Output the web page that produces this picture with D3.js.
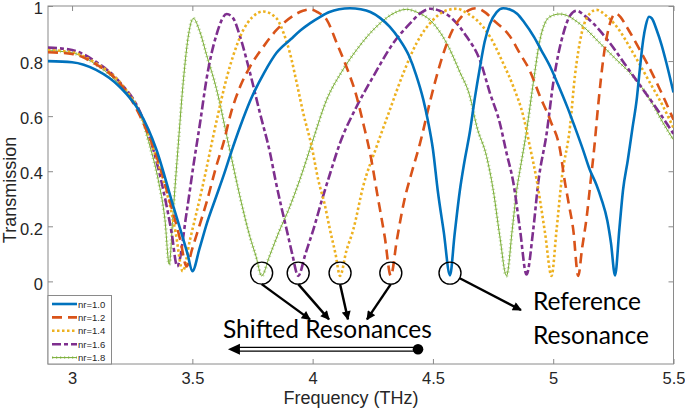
<!DOCTYPE html>
<html><head><meta charset="utf-8">
<script src="https://cdn.jsdelivr.net/npm/d3@7"></script>
<style>body{margin:0;background:#fff} svg{display:block}</style>
</head><body><svg id="c" width="685" height="408"></svg>
<script>
// ---------- data ----------
const xTicks = [3, 3.5, 4, 4.5, 5, 5.5];
const yTicks = [0, 0.2, 0.4, 0.6, 0.8, 1];
const seriesNames = ["nr=1.0", "nr=1.2", "nr=1.4", "nr=1.6", "nr=1.8"];

const nr10 = [[2.90,0.800],[3.00,0.796],[3.10,0.768],[3.20,0.705],[3.28,0.617],[3.35,0.480],[3.42,0.275],[3.46,0.160],[3.48,0.100],[3.50,0.037],[3.53,0.120],[3.56,0.210],[3.60,0.310],[3.63,0.385],[3.66,0.465],[3.70,0.565],[3.74,0.655],[3.80,0.760],[3.85,0.830],[3.91,0.880],[3.95,0.912],[3.99,0.938],[4.03,0.960],[4.07,0.978],[4.11,0.988],[4.155,0.992],[4.20,0.988],[4.24,0.978],[4.28,0.957],[4.32,0.925],[4.36,0.880],[4.40,0.820],[4.43,0.750],[4.46,0.660],[4.48,0.580],[4.50,0.480],[4.52,0.330],[4.545,0.180],[4.571,0.022],[4.59,0.170],[4.612,0.330],[4.63,0.430],[4.654,0.545],[4.675,0.670],[4.695,0.775],[4.715,0.870],[4.737,0.935],[4.765,0.978],[4.792,0.992],[4.82,0.987],[4.85,0.972],[4.88,0.940],[4.92,0.888],[4.95,0.840],[4.99,0.775],[5.02,0.715],[5.06,0.630],[5.09,0.560],[5.125,0.475],[5.15,0.410],[5.18,0.350],[5.20,0.300],[5.225,0.220],[5.24,0.140],[5.257,0.022],[5.275,0.190],[5.29,0.330],[5.31,0.440],[5.33,0.560],[5.347,0.660],[5.36,0.770],[5.374,0.877],[5.385,0.930],[5.398,0.961],[5.41,0.955],[5.43,0.913],[5.45,0.860],[5.47,0.795],[5.50,0.686]];

const nr12 = [[2.90,0.832],[3.00,0.826],[3.10,0.788],[3.20,0.718],[3.28,0.605],[3.35,0.458],[3.41,0.280],[3.45,0.150],[3.476,0.054],[3.50,0.120],[3.525,0.190],[3.56,0.290],[3.60,0.420],[3.63,0.505],[3.66,0.610],[3.70,0.710],[3.74,0.780],[3.80,0.858],[3.85,0.913],[3.92,0.965],[3.96,0.983],[3.99,0.988],[4.02,0.978],[4.06,0.948],[4.10,0.866],[4.14,0.780],[4.18,0.680],[4.21,0.575],[4.24,0.460],[4.27,0.310],[4.30,0.160],[4.325,0.020],[4.35,0.150],[4.38,0.290],[4.41,0.390],[4.446,0.500],[4.49,0.660],[4.53,0.790],[4.58,0.910],[4.62,0.962],[4.65,0.985],[4.68,0.992],[4.72,0.975],[4.75,0.950],[4.82,0.890],[4.86,0.830],[4.90,0.770],[4.945,0.672],[4.99,0.580],[5.03,0.470],[5.045,0.380],[5.065,0.280],[5.083,0.190],[5.104,0.020],[5.12,0.120],[5.14,0.240],[5.155,0.360],[5.17,0.480],[5.187,0.640],[5.21,0.820],[5.236,0.937],[5.26,0.973],[5.28,0.960],[5.305,0.925],[5.36,0.841],[5.42,0.740],[5.47,0.647],[5.50,0.587]];

const nr14 = [[2.90,0.840],[3.00,0.832],[3.10,0.792],[3.20,0.722],[3.28,0.615],[3.35,0.450],[3.40,0.300],[3.43,0.180],[3.46,0.037],[3.49,0.150],[3.54,0.335],[3.60,0.580],[3.643,0.740],[3.67,0.820],[3.712,0.913],[3.75,0.960],[3.795,0.980],[3.85,0.955],[3.88,0.900],[3.906,0.828],[3.934,0.720],[3.961,0.611],[3.996,0.490],[4.023,0.370],[4.05,0.280],[4.072,0.188],[4.095,0.100],[4.114,0.020],[4.14,0.110],[4.169,0.188],[4.21,0.345],[4.266,0.490],[4.321,0.623],[4.377,0.756],[4.432,0.865],[4.50,0.949],[4.55,0.982],[4.598,0.990],[4.64,0.975],[4.682,0.949],[4.737,0.889],[4.792,0.792],[4.834,0.708],[4.876,0.599],[4.903,0.490],[4.931,0.370],[4.966,0.176],[4.993,0.020],[5.014,0.188],[5.035,0.370],[5.07,0.563],[5.09,0.744],[5.118,0.900],[5.153,0.973],[5.18,0.986],[5.22,0.965],[5.264,0.925],[5.333,0.828],[5.403,0.720],[5.457,0.635],[5.50,0.557]];

const nr16 = [[2.90,0.849],[3.00,0.840],[3.10,0.797],[3.20,0.722],[3.28,0.620],[3.338,0.478],[3.379,0.333],[3.414,0.176],[3.437,0.055],[3.476,0.249],[3.504,0.418],[3.532,0.575],[3.56,0.740],[3.60,0.895],[3.643,0.971],[3.67,0.955],[3.698,0.890],[3.74,0.756],[3.781,0.611],[3.823,0.466],[3.845,0.370],[3.87,0.270],[3.892,0.188],[3.915,0.100],[3.94,0.020],[3.97,0.100],[4.003,0.188],[4.04,0.300],[4.072,0.390],[4.114,0.503],[4.183,0.635],[4.252,0.744],[4.335,0.865],[4.405,0.937],[4.45,0.975],[4.488,0.990],[4.53,0.982],[4.571,0.961],[4.64,0.889],[4.695,0.804],[4.737,0.684],[4.778,0.575],[4.806,0.466],[4.834,0.360],[4.862,0.188],[4.889,0.025],[4.917,0.188],[4.938,0.360],[4.973,0.539],[5.00,0.720],[5.042,0.900],[5.07,0.965],[5.097,0.983],[5.13,0.965],[5.166,0.937],[5.236,0.865],[5.305,0.780],[5.374,0.696],[5.443,0.611],[5.50,0.536]];

const nr18 = [[2.90,0.838],[3.00,0.830],[3.10,0.787],[3.20,0.712],[3.28,0.615],[3.324,0.490],[3.358,0.370],[3.386,0.225],[3.404,0.062],[3.42,0.250],[3.44,0.480],[3.463,0.732],[3.485,0.900],[3.504,0.955],[3.53,0.910],[3.56,0.820],[3.60,0.700],[3.65,0.500],[3.70,0.300],[3.74,0.160],[3.765,0.090],[3.788,0.020],[3.82,0.090],[3.86,0.180],[3.90,0.260],[3.947,0.370],[4.00,0.510],[4.058,0.659],[4.12,0.760],[4.183,0.841],[4.28,0.937],[4.34,0.975],[4.39,0.988],[4.44,0.975],[4.488,0.949],[4.557,0.865],[4.612,0.760],[4.654,0.671],[4.682,0.563],[4.723,0.454],[4.751,0.330],[4.778,0.164],[4.806,0.020],[4.83,0.190],[4.848,0.330],[4.865,0.420],[4.89,0.550],[4.917,0.720],[4.945,0.877],[4.986,0.961],[5.028,0.971],[5.125,0.925],[5.194,0.865],[5.264,0.804],[5.333,0.744],[5.403,0.659],[5.457,0.575],[5.50,0.514]];

// annotated resonances (shifted ones, then the reference one)
const shiftedRes = [3.788, 3.94, 4.114, 4.325];
const referenceRes = 4.571;

// ---------- layout ----------
const svg = d3.select("#c");
const L = 48, R = 673.5, T = 6, B = 364;
const x = d3.scaleLinear().domain([2.9, 5.5]).range([L, R]);
const y = d3.scaleLinear().domain([-0.3, 1]).range([B, T]);
const axisCol = "#8a8a8a", textCol = "#262626";
const tickFont = "16.5px 'Liberation Sans', Arial, sans-serif";

svg.append("defs").append("clipPath").attr("id","clip")
  .append("rect").attr("x",L).attr("y",T).attr("width",R-L).attr("height",B-T);

const defs = svg.select("defs");
defs.append("marker").attr("id","ah").attr("viewBox","0 0 10 10").attr("refX",9).attr("refY",5)
  .attr("markerWidth",11).attr("markerHeight",9).attr("markerUnits","userSpaceOnUse").attr("orient","auto")
  .append("path").attr("d","M0,0 L10,5 L0,10 Z").attr("fill","#000");

// axes
function styleAxis(g, labels){
  g.select(".domain").remove();
  g.selectAll(".tick line").attr("stroke",axisCol);
  g.selectAll(".tick text").attr("fill",textCol).style("font",tickFont);
  if(!labels) g.selectAll(".tick text").remove();
}
svg.append("g").attr("transform",`translate(0,${B})`)
  .call(d3.axisBottom(x).tickValues(xTicks).tickSize(-5).tickPadding(8).tickFormat(d3.format("")))
  .call(g=>styleAxis(g,true));
svg.append("g").attr("transform",`translate(0,${T})`)
  .call(d3.axisTop(x).tickValues(xTicks).tickSize(-5)).call(g=>styleAxis(g,false));
svg.append("g").attr("transform",`translate(${L},0)`)
  .call(d3.axisLeft(y).tickValues(yTicks).tickSize(-5).tickPadding(5).tickFormat(d3.format("")))
  .call(g=>{styleAxis(g,true); g.selectAll(".tick text").attr("dy","0.47em");});
svg.append("g").attr("transform",`translate(${R},0)`)
  .call(d3.axisRight(y).tickValues(yTicks).tickSize(-5)).call(g=>styleAxis(g,false));
svg.append("rect").attr("x",L).attr("y",T).attr("width",R-L).attr("height",B-T)
  .attr("fill","none").attr("stroke",axisCol).attr("stroke-width",1);

svg.append("text").attr("x",351).attr("y",404).attr("text-anchor","middle")
  .attr("fill",textCol).style("font","18px 'Liberation Sans', Arial, sans-serif").text("Frequency (THz)");
svg.append("text").attr("transform","translate(15.5,190) rotate(-90)").attr("text-anchor","middle")
  .attr("fill",textCol).style("font","18px 'Liberation Sans', Arial, sans-serif").text("Transmission");

// series
const series = [
  {name:seriesNames[0], data:nr10, color:"#0072BD", w:2.6, dash:null},
  {name:seriesNames[1], data:nr12, color:"#D95319", w:2.6, dash:"10,6"},
  {name:seriesNames[2], data:nr14, color:"#EDB120", w:2.6, dash:"2.5,2.5"},
  {name:seriesNames[3], data:nr16, color:"#7E2F8E", w:2.6, dash:"9,3,4,3"},
  {name:seriesNames[4], data:nr18, color:"#77AC30", w:1, dash:null, marker:true}
];
const line = d3.line().x(d=>x(d[0])).y(d=>y(d[1])).curve(d3.curveMonotoneX);
const plot = svg.append("g").attr("clip-path","url(#clip)");
series.slice().reverse().forEach(s=>{
  if(s.marker){
    plot.append("path").attr("d",line(s.data)).attr("fill","none")
      .attr("stroke","#a9cc83").attr("stroke-width",3.5).attr("stroke-dasharray","1.2,2.8").attr("opacity",0.7);
  }
  plot.append("path").attr("d",line(s.data)).attr("fill","none").attr("stroke",s.color)
    .attr("stroke-width",s.w).attr("stroke-dasharray",s.dash).attr("stroke-linejoin","round");
});

// legend
const lg = svg.append("g");
lg.append("rect").attr("x",L).attr("y",295.5).attr("width",63.5).attr("height",B-295.5)
  .attr("fill","#fff").attr("stroke",axisCol).attr("stroke-width",1);
series.forEach((s,i)=>{
  const yy = 304 + i*13.4;
  if(s.marker){
    lg.append("line").attr("x1",52).attr("x2",77).attr("y1",yy).attr("y2",yy)
      .attr("stroke","#a9cc83").attr("stroke-width",3).attr("stroke-dasharray","1.2,2.8").attr("opacity",0.7);
  }
  lg.append("line").attr("x1",52).attr("x2",77).attr("y1",yy).attr("y2",yy)
    .attr("stroke",s.color).attr("stroke-width",s.w).attr("stroke-dasharray",s.dash);
  lg.append("text").attr("x",78).attr("y",yy+3.5).attr("fill",textCol)
    .style("font","9.5px 'Liberation Sans', Arial, sans-serif").text(s.name);
});

// annotations
const ann = svg.append("g");
const cy = y(0.03), r = 11;
shiftedRes.concat([referenceRes]).forEach(f=>{
  ann.append("circle").attr("cx",x(f)).attr("cy",cy).attr("r",r).attr("fill","none")
    .attr("stroke","#000").attr("stroke-width",1.4);
});
const arrowTips = [3.989, 4.068, 4.147, 4.226];
shiftedRes.forEach((f,i)=>{
  ann.append("line").attr("x1",x(f)).attr("y1",cy+r).attr("x2",x(arrowTips[i])).attr("y2",y(-0.138))
    .attr("stroke","#000").attr("stroke-width",2.4).attr("marker-end","url(#ah)");
});
{
  const cx = x(referenceRes), tx = x(4.866), ty = y(-0.104);
  const dx = tx-cx, dy = ty-cy, n = Math.hypot(dx,dy);
  ann.append("line").attr("x1",cx+dx/n*r).attr("y1",cy+dy/n*r).attr("x2",tx).attr("y2",ty)
    .attr("stroke","#000").attr("stroke-width",2.4).attr("marker-end","url(#ah)");
}
const annFont = "24.5px Lato, 'Open Sans', sans-serif";
ann.append("text").attr("x",223).attr("y",338).attr("fill","#000").style("font",annFont).text("Shifted Resonances");
ann.append("text").attr("x",533).attr("y",310).attr("fill","#000").style("font",annFont).text("Reference");
ann.append("text").attr("x",533).attr("y",344).attr("fill","#000").style("font",annFont).text("Resonance");

// double arrow
const dy0 = 349.3, x0 = x(4.438), x1 = x(3.648);
ann.append("line").attr("x1",x1+8).attr("x2",x0).attr("y1",dy0-1.9).attr("y2",dy0-1.9).attr("stroke","#000").attr("stroke-width",1.3);
ann.append("line").attr("x1",x1+8).attr("x2",x0).attr("y1",dy0+1.9).attr("y2",dy0+1.9).attr("stroke","#000").attr("stroke-width",1.3);
ann.append("path").attr("d",`M${x1},${dy0} L${x1+12},${dy0-5.5} L${x1+12},${dy0+5.5} Z`).attr("fill","#000");
ann.append("circle").attr("cx",x0).attr("cy",dy0).attr("r",5.3).attr("fill","#000");
</script>
</body></html>
